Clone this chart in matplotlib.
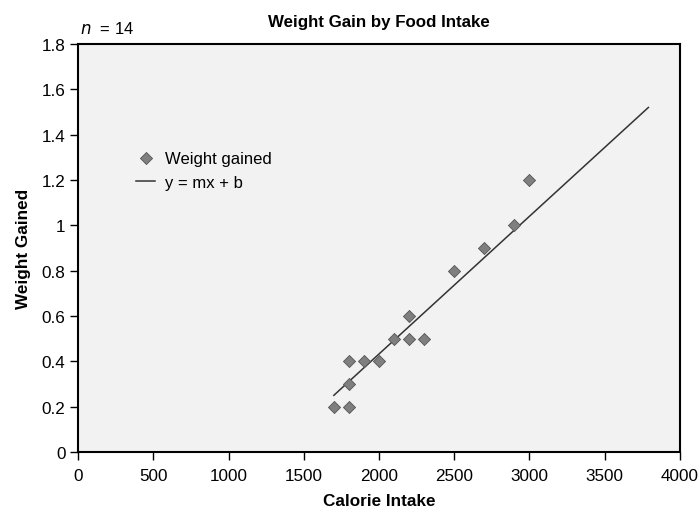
import numpy as np
import matplotlib.pyplot as plt

plt.rcParams['font.family'] = ['Liberation Sans', 'DejaVu Sans']

# Data
calories = [1700, 1800, 1800, 1800, 1900, 2000, 2100, 2200, 2200, 2300, 2500, 2700, 2900, 3000]
weight = [0.2, 0.2, 0.3, 0.4, 0.4, 0.4, 0.5, 0.5, 0.6, 0.5, 0.8, 0.9, 1.0, 1.2]

# Trend line end points
fit_x = [1700, 3790]
fit_y = [0.25, 1.52]

x_ticks = [0, 500, 1000, 1500, 2000, 2500, 3000, 3500, 4000]
y_ticks = [0, 0.2, 0.4, 0.6, 0.8, 1.0, 1.2, 1.4, 1.6, 1.8]
y_labels = ['0', '0.2', '0.4', '0.6', '0.8', '1', '1.2', '1.4', '1.6', '1.8']

fig = plt.figure(figsize=(6.99, 5.10), dpi=100)
ax = fig.add_axes([0.1116, 0.1118, 0.8612, 0.80])
ax.set_facecolor('#f2f2f2')

ax.scatter(calories, weight, marker='D', s=38, color='#7f7f7f',
           edgecolors='#555555', linewidths=0.6, zorder=3, label='Weight gained')
ax.plot(fit_x, fit_y, color='#333333', lw=1.1, zorder=2, label='y = mx + b')

ax.set_xlim(0, 4000)
ax.set_ylim(0, 1.8)
ax.set_xticks(x_ticks)
ax.set_yticks(y_ticks)
ax.set_yticklabels(y_labels)
ax.tick_params(direction='out', length=5.5, width=1, labelsize=12.3, colors='black')
ax.tick_params(axis='x', pad=6)
ax.tick_params(axis='y', pad=3.5)

for s in ax.spines.values():
    s.set_linewidth(1.5)

ax.set_xlabel('Calorie Intake', fontsize=12.3, fontweight='bold', labelpad=7)
ax.set_ylabel('Weight Gained', fontsize=12.3, fontweight='bold', labelpad=8)
ax.set_title('Weight Gain by Food Intake', fontsize=12.2, fontweight='bold', pad=13)

ax.text(0.003, 1.04, r'$n$  = 14', transform=ax.transAxes, fontsize=12,
        ha='left', va='center')

ax.legend(loc='upper left', bbox_to_anchor=(0.072, 0.775), frameon=False,
          fontsize=12, handlelength=1.1, handletextpad=0.6, labelspacing=0.55)

fig.savefig('out.png', dpi=100)
